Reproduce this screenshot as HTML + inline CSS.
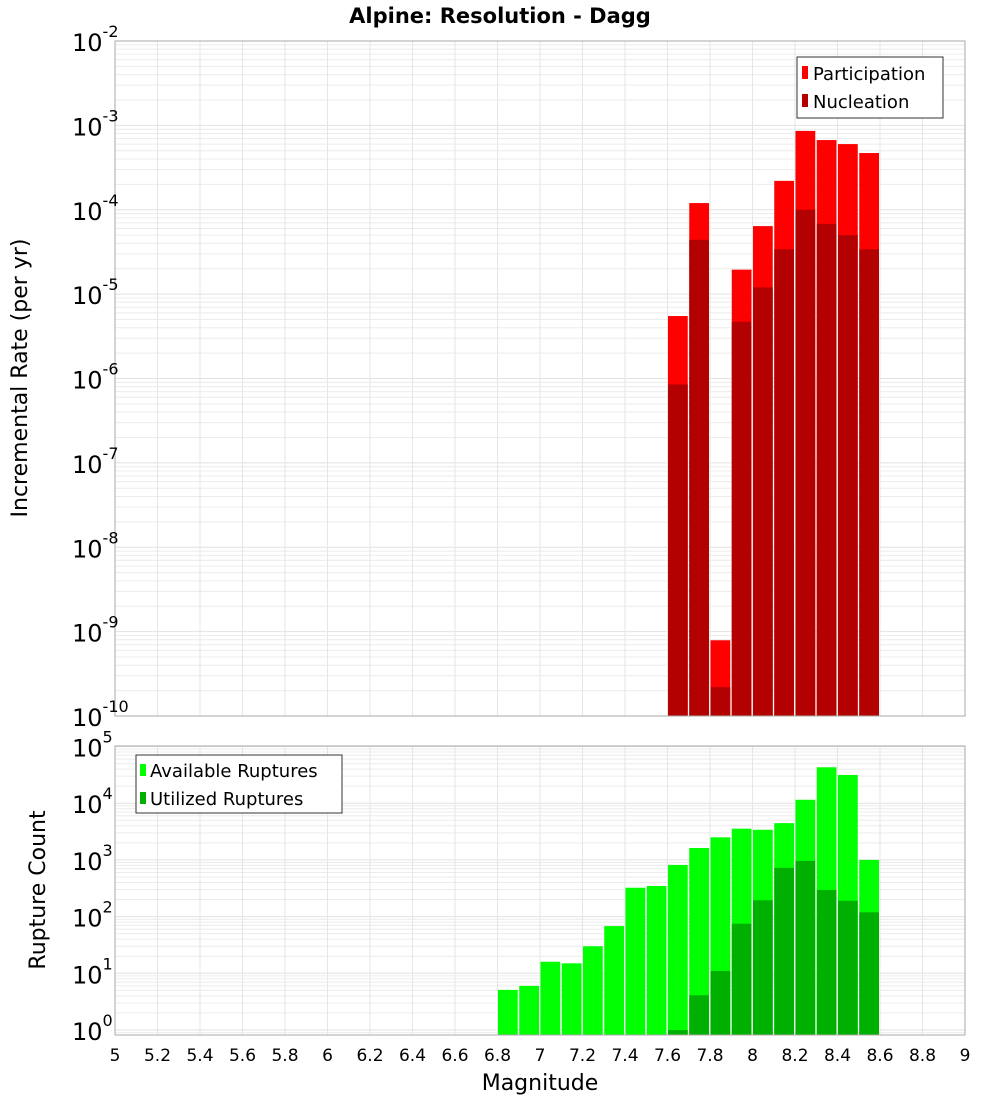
<!DOCTYPE html>
<html><head><meta charset="utf-8"><style>
body{margin:0;background:#fff;}
svg{display:block;font-family:"DejaVu Sans","Liberation Sans",sans-serif;}
</style></head><body>
<svg id="c" width="1000" height="1100" xmlns="http://www.w3.org/2000/svg"></svg>
<script>
const bins=[7.65,7.75,7.85,7.95,8.05,8.15,8.25,8.35,8.45,8.55];
const participation=[5.5e-6,1.2e-4,7.9e-10,1.95e-5,6.4e-5,2.2e-4,8.6e-4,6.7e-4,6.0e-4,4.7e-4];
const nucleation=[8.5e-7,4.4e-5,2.2e-10,4.7e-6,1.2e-5,3.4e-5,1.0e-4,6.8e-5,5.0e-5,3.4e-5];
const countBins=[6.85,6.95,7.05,7.15,7.25,7.35,7.45,7.55,7.65,7.75,7.85,7.95,8.05,8.15,8.25,8.35,8.45,8.55];
const available=[5.1,6.0,16,15,30,68,323,347,815,1620,2500,3550,3400,4450,11500,43000,31500,1000];
const utilized=[0,0,0,0,0,0,0,0,1.0,4.1,11,75,194,725,960,295,190,119];
const xTicks=["5","5.2","5.4","5.6","5.8","6","6.2","6.4","6.6","6.8","7","7.2","7.4","7.6","7.8","8","8.2","8.4","8.6","8.8","9"];
const topExp=[-2,-3,-4,-5,-6,-7,-8,-9,-10];
const botExp=[5,4,3,2,1,0];

const svg=document.getElementById('c');
const NS='http://www.w3.org/2000/svg';
function mk(t,a,p){const e=document.createElementNS(NS,t);for(const k in a)e.setAttribute(k,a[k]);(p||svg).appendChild(e);return e;}
const X0=115,X1=965;
const xs=v=>X0+(v-5)/4*(X1-X0);
const T0=41,T1=716;
const ty=v=>T0+(-2-Math.log10(v))*(T1-T0)/8;
const B0=746,B1=1035,BD=56.7,BY0=1030;
const by=v=>BY0-Math.log10(v)*BD;

function grid(y0,y1,yf,expMin,expMax,name){
  const g=mk('g',{});
  
  
  for(let e=expMin;e<=expMax;e++)for(let m=1;m<10;m++){
    const y=yf(m*Math.pow(10,e));
    if(y<y0||y>y1)continue;
    mk('line',{x1:X0,x2:X1,y1:y,y2:y,stroke:m==1?'#e2e2e2':'#ececec','stroke-width':1},g);
  }
  for(let i=0;i<xTicks.length;i++){const x=xs(+xTicks[i]);mk('line',{x1:x,x2:x,y1:y0,y2:y1,stroke:'#e6e6e6'},g);}
}
// title
let t=mk('text',{x:500,y:23,'text-anchor':'middle','font-size':21,'font-weight':'bold'});t.textContent='Alpine: Resolution - Dagg';


// top plot
grid(T0,T1,ty,-11,-2,'top-grid');
for(let i=0;i<bins.length;i++){
  const x=xs(bins[i]-0.05)+0.5,w=xs(bins[i]+0.05)-xs(bins[i]-0.05)-1.5;
  let r=mk('rect',{x:x,y:ty(participation[i]),width:w,height:T1-ty(participation[i]),fill:'#ff0000'});
  
  r=mk('rect',{x:x,y:ty(nucleation[i]),width:w,height:T1-ty(nucleation[i]),fill:'#b30000'});
  
}
mk('rect',{x:X0,y:T0,width:X1-X0,height:T1-T0,fill:'none',stroke:'#aaa'});
topExp.forEach(e=>{
  const y=ty(Math.pow(10,e));
  const tx=mk('text',{x:72,y:y+10,'font-size':24});
  
  tx.textContent='10';
  const s=mk('tspan',{dy:-14,'font-size':16},tx);s.textContent=String(e);
});
t=mk('text',{x:27,y:378,'text-anchor':'middle','font-size':22,transform:'rotate(-90 27 378)'});t.textContent='Incremental Rate (per yr)';

// top legend
let lg=mk('g',{});
mk('rect',{x:797,y:57,width:146,height:61,fill:'#fff',stroke:'#333'},lg);
mk('rect',{x:802,y:66,width:6,height:13,fill:'#ff0000'},lg);
mk('rect',{x:802,y:94,width:6,height:13,fill:'#b30000'},lg);
t=mk('text',{x:813,y:80,'font-size':18},lg);t.textContent='Participation';
t=mk('text',{x:813,y:108,'font-size':18},lg);t.textContent='Nucleation';

// bottom plot
grid(B0,B1,by,-1,5,'bottom-grid');
for(let i=0;i<countBins.length;i++){
  const x=xs(countBins[i]-0.05)+0.5,w=xs(countBins[i]+0.05)-xs(countBins[i]-0.05)-1.5;
  let r=mk('rect',{x:x,y:by(available[i]),width:w,height:B1-by(available[i]),fill:'#00ff00'});
  
  if(utilized[i]>0){
    const yy=Math.min(by(utilized[i]),B1-1);
    r=mk('rect',{x:x,y:yy,width:w,height:B1-yy,fill:'#00b000'});
    
  }
}
mk('rect',{x:X0,y:B0,width:X1-X0,height:B1-B0,fill:'none',stroke:'#aaa'});
botExp.forEach(e=>{
  const y=by(Math.pow(10,e));
  const tx=mk('text',{x:72,y:y+10,'font-size':24});
  
  tx.textContent='10';
  const s=mk('tspan',{dy:-14,'font-size':16},tx);s.textContent=String(e);
});
t=mk('text',{x:45,y:890,'text-anchor':'middle','font-size':22,transform:'rotate(-90 45 890)'});t.textContent='Rupture Count';

lg=mk('g',{});
mk('rect',{x:136,y:755,width:206,height:58,fill:'#fff',stroke:'#333'},lg);
mk('rect',{x:140,y:764,width:6,height:12,fill:'#00ff00'},lg);
mk('rect',{x:140,y:792,width:6,height:12,fill:'#00b000'},lg);
t=mk('text',{x:150,y:777,'font-size':18},lg);t.textContent='Available Ruptures';
t=mk('text',{x:150,y:805,'font-size':18},lg);t.textContent='Utilized Ruptures';

xTicks.forEach(v=>{
  const tx=mk('text',{x:xs(+v),y:1061,'text-anchor':'middle','font-size':17});
  
  tx.textContent=v;
});
t=mk('text',{x:540,y:1090,'text-anchor':'middle','font-size':22});t.textContent='Magnitude';

</script>
</body></html>
